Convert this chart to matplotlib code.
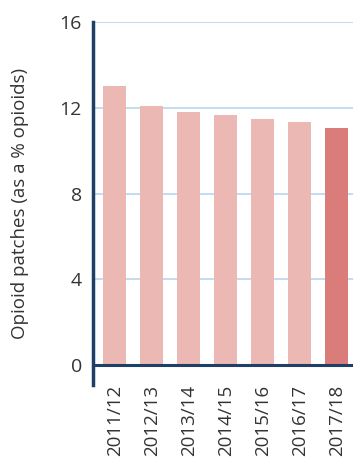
import matplotlib.pyplot as plt
import numpy as np

years = ['2011/12', '2012/13', '2013/14', '2014/15', '2015/16', '2016/17', '2017/18']
patch_pct = [13.0, 12.1, 11.8, 11.65, 11.5, 11.35, 11.05]
bar_colors = ['#ebb8b3'] * 6 + ['#d97c7a']

plt.rcParams['font.family'] = ['Open Sans', 'DejaVu Sans']

fig = plt.figure(figsize=(3.53, 4.59), dpi=100)
ax = fig.add_axes([0.2635, 0.1612, 0.7365, 0.7908])

x = np.arange(len(years))
ax.bar(x, patch_pct, width=0.62, color=bar_colors, zorder=2)
ax.axhline(0, color='#1f3f66', lw=2.2, zorder=3)

ax.set_xlim(-0.586, 6.44)
ax.set_ylim(-0.93, 16)
ax.set_yticks([0, 4, 8, 12, 16])
ax.yaxis.grid(True, color='#b8d5f0', lw=1.2, zorder=0)
ax.set_axisbelow(True)

for s in ['top', 'right', 'bottom']:
    ax.spines[s].set_visible(False)
ax.spines['left'].set_color('#1f3f66')
ax.spines['left'].set_linewidth(2.5)

ax.tick_params(axis='y', length=0, pad=8, labelsize=14, labelcolor='#333333')
ax.tick_params(axis='x', length=0, pad=0, labelsize=13.5, labelcolor='#333333')
ax.set_xticks(x)
ax.set_xticklabels(years, rotation=90)
ax.set_ylabel('Opioid patches (as a % opioids)', fontsize=13.5, color='#333333', labelpad=22)

fig.savefig('out.png', dpi=100)
